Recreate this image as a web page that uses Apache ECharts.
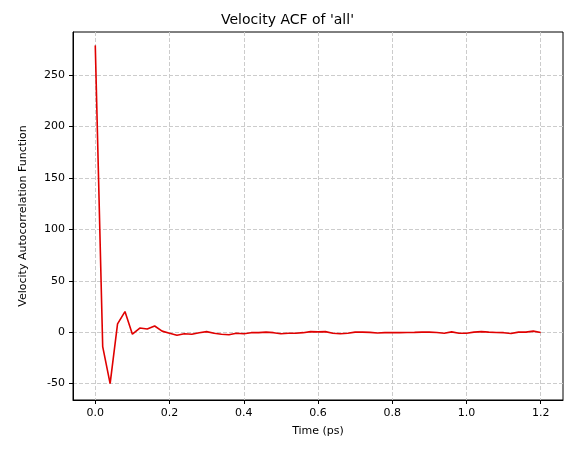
<!DOCTYPE html>
<html>
<head>
<meta charset="utf-8">
<script src="https://cdn.jsdelivr.net/npm/echarts@6/dist/echarts.min.js"></script>
<style>html,body{margin:0;padding:0;background:#fff}#c{width:575px;height:454px}</style>
</head>
<body>
<div id="c"></div>
<script>
// time step 0.02 ps
const times = [];
for (let i = 0; i <= 60; i++) times.push(+(i * 0.02).toFixed(2));
const acf = [279, -14, -50, 8, 20, -2, 4, 3, 6, 1, -1, -3, -1.5, -2, -0.5, 0.5, -1, -2, -2.5, -1, -1.5, -0.5, -0.5, 0, -0.5, -1.5, -1, -1, -0.5, 0.5, 0.3, 0.5, -1, -1.5, -1, 0, 0, -0.2, -0.8, -0.5, -0.5, -0.5, -0.3, -0.2, 0, 0, -0.3, -1, 0.3, -1, -1, 0, 0.5, 0, -0.3, -0.5, -1.3, 0, 0, 1, -0.3];
const xTicks = [0, 0.2, 0.4, 0.6, 0.8, 1.0, 1.2];
const yTicks = [-50, 0, 50, 100, 150, 200, 250];

const chart = echarts.init(document.getElementById('c'));
const font = 'DejaVu Sans';
chart.setOption({
  animation: false,
  textStyle: { fontFamily: font },
  title: { text: "Velocity ACF of 'all'", left: 'center', top: 8,
    textStyle: { fontSize: 14, fontWeight: 'normal', color: '#000', fontFamily: font } },
  grid: { left: 73, right: 12, top: 32, bottom: 54, show: true, borderColor: '#000', borderWidth: 1 },
  xAxis: {
    type: 'value', min: -0.06, max: 1.26,
    name: 'Time (ps)', nameLocation: 'middle', nameGap: 26,
    nameTextStyle: { fontSize: 11, color: '#000' },
    axisLine: { onZero: false, lineStyle: { color: '#000' } },
    axisTick: { show: true, customValues: xTicks, length: 4, lineStyle: { color: '#000' } },
    axisLabel: { customValues: xTicks, color: '#000', fontSize: 11, formatter: v => v.toFixed(1) },
    splitLine: { show: true, lineStyle: { type: 'dashed', color: '#ccc' } }
  },
  yAxis: {
    type: 'value', min: -66, max: 292,
    name: 'Velocity Autocorrelation Function', nameLocation: 'middle', nameGap: 44,
    nameTextStyle: { fontSize: 11, color: '#000' },
    axisLine: { show: true, onZero: false, lineStyle: { color: '#000' } },
    axisTick: { show: true, customValues: yTicks, length: 4, lineStyle: { color: '#000' } },
    axisLabel: { customValues: yTicks, color: '#000', fontSize: 11 },
    splitLine: { show: true, lineStyle: { type: 'dashed', color: '#ccc' } }
  },
  series: [{
    type: 'line', showSymbol: false,
    data: times.map((t, i) => [t, acf[i]]),
    lineStyle: { color: '#e00000', width: 1.6 }, itemStyle: { color: '#e00000' }
  }]
});
</script>
</body>
</html>
